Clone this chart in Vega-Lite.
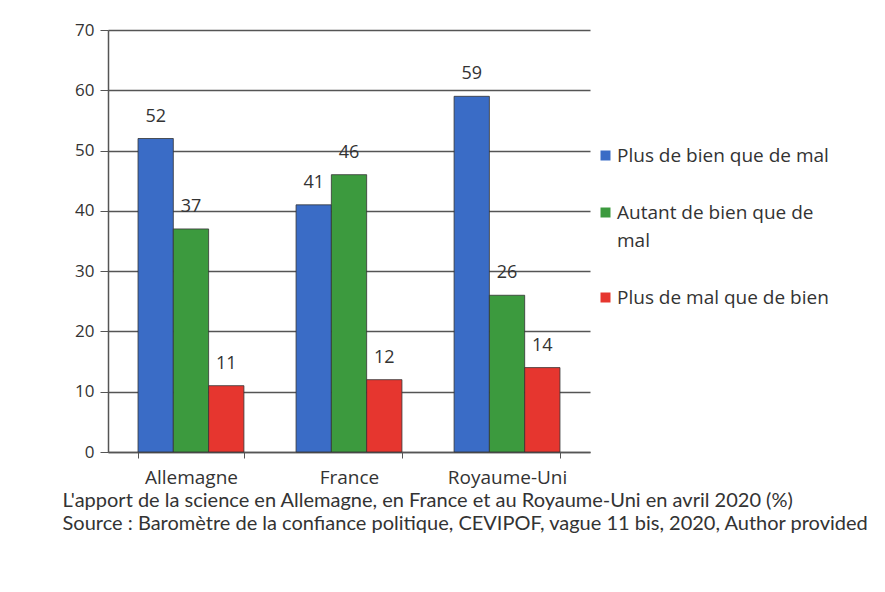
{
  "$schema": "https://vega.github.io/schema/vega-lite/v6.json",
  "autosize": "none",
  "width": 482,
  "height": 422,
  "padding": {"left": 108, "top": 30, "right": 295, "bottom": 140},
  "background": "white",
  "config": {
    "view": {"stroke": null},
    "font": "Open Sans",
    "style": {"guide-label": {"lineHeight": 28}}
  },
  "title": {
    "text": ["L'apport de la science en Allemagne, en France et au Royaume-Uni en avril 2020 (%)", "Source : Baromètre de la confiance politique, CEVIPOF, vague 11 bis, 2020, Author provided"],
    "orient": "bottom",
    "anchor": "start",
    "dx": -12,
    "offset": 4,
    "fontSize": 20,
    "fontWeight": "normal",
    "color": "#333",
    "lineHeight": 23,
    "font": "Lato"
  },
  "data": {
    "values": [
      {"pays": "Allemagne", "opinion": "Plus de bien que de mal", "valeur": 52},
      {"pays": "Allemagne", "opinion": "Autant de bien que de mal", "valeur": 37},
      {"pays": "Allemagne", "opinion": "Plus de mal que de bien", "valeur": 11},
      {"pays": "France", "opinion": "Plus de bien que de mal", "valeur": 41},
      {"pays": "France", "opinion": "Autant de bien que de mal", "valeur": 46},
      {"pays": "France", "opinion": "Plus de mal que de bien", "valeur": 12},
      {"pays": "Royaume-Uni", "opinion": "Plus de bien que de mal", "valeur": 59},
      {"pays": "Royaume-Uni", "opinion": "Autant de bien que de mal", "valeur": 26},
      {"pays": "Royaume-Uni", "opinion": "Plus de mal que de bien", "valeur": 14}
    ]
  },
  "encoding": {
    "x": {
      "field": "pays", "type": "nominal", "sort": null, "title": null,
      "scale": {"paddingInner": 0.33, "paddingOuter": 0.19},
      "axis": {
        "labelAngle": 0, "labelFontSize": 19, "labelLineHeight": 19, "labelColor": "#333", "labelPadding": 10,
        "domainColor": "#555", "domainWidth": 1.5, "tickColor": "#555", "tickBand": "extent", "tickSize": 6,
        "grid": false
      }
    },
    "xOffset": {"field": "opinion", "type": "nominal", "sort": ["Plus de bien que de mal", "Autant de bien que de mal", "Plus de mal que de bien"]},
    "y": {
      "field": "valeur", "type": "quantitative", "title": null,
      "scale": {"domain": [0, 70]},
      "axis": {
        "values": [0, 10, 20, 30, 40, 50, 60, 70],
        "labelFontSize": 17, "labelLineHeight": 17, "labelColor": "#333", "labelPadding": 6,
        "domainColor": "#555", "domainWidth": 1.5, "tickColor": "#555", "tickSize": 8,
        "gridColor": "#555", "gridWidth": 1.3
      }
    }
  },
  "layer": [
    {
      "mark": {"type": "bar", "stroke": "#333", "strokeWidth": 0.8},
      "encoding": {
        "color": {
          "field": "opinion", "type": "nominal", "title": null,
          "sort": ["Plus de bien que de mal", "Autant de bien que de mal", "Plus de mal que de bien"],
          "scale": {"domain": ["Plus de bien que de mal", "Autant de bien que de mal", "Plus de mal que de bien"], "range": ["#3a6cc6", "#3c9a3e", "#e6362f"]},
          "legend": {
            "orient": "none", "legendX": 488, "legendY": 116,
            "symbolType": "square", "symbolSize": 100, "symbolStrokeWidth": 0,
            "labelFontSize": 19, "labelColor": "#333", "labelLimit": 400,
            "rowPadding": 37, "labelOffset": 2,
            "labelExpr": "datum.label == 'Autant de bien que de mal' ? ['Autant de bien que de', 'mal'] : datum.label"
          }
        }
      }
    },
    {
      "mark": {"type": "text", "dy": -22, "fontSize": 18, "color": "#333"},
      "encoding": {"text": {"field": "valeur", "type": "quantitative"}}
    }
  ]
}
